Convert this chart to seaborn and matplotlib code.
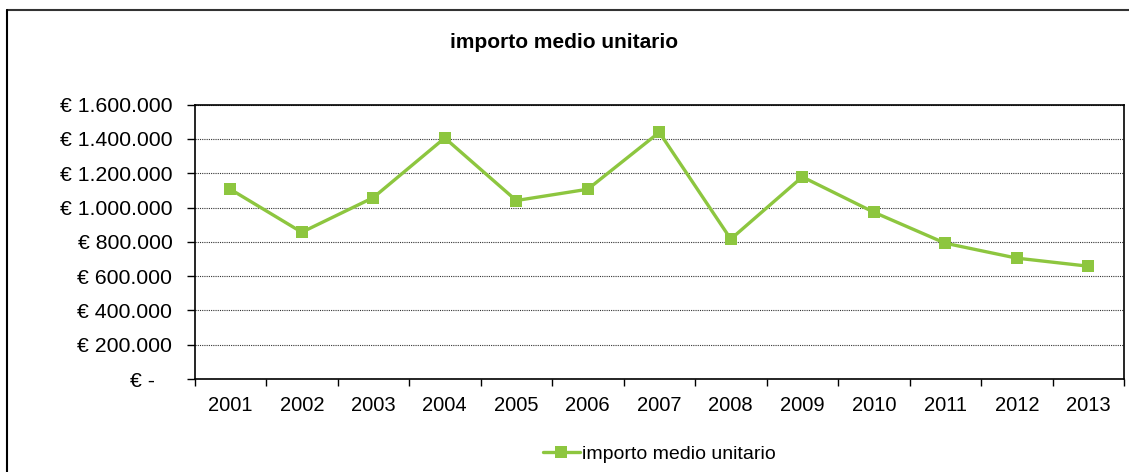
import matplotlib
matplotlib.use("Agg")
import matplotlib.pyplot as plt
from matplotlib.lines import Line2D
from matplotlib.ticker import FixedLocator, FuncFormatter
import seaborn as sns
import pandas as pd

years = ["2001", "2002", "2003", "2004", "2005", "2006", "2007",
         "2008", "2009", "2010", "2011", "2012", "2013"]
importo = [1107000, 856000, 1058000, 1406000, 1041000, 1107000, 1439000,
           816000, 1179000, 973000, 792000, 705000, 658000]
series_name = "importo medio unitario"
title = "importo medio unitario"

sns.set_theme(style="white")
plt.rcParams["font.family"] = ["Liberation Sans", "DejaVu Sans"]
plt.rcParams["text.color"] = "black"

df = pd.DataFrame({"anno": years, "valore": importo})
df["x"] = range(len(years))

fig = plt.figure(figsize=(11.29, 4.72), dpi=100)
ax = fig.add_axes([0.1723, 0.197, 0.9956 - 0.1723, 0.7782 - 0.197])

green = "#8DC63F"
sns.lineplot(data=df, x="x", y="valore", ax=ax, color=green, linewidth=2.4,
             marker="s", markersize=9, markeredgewidth=0, legend=False)

ax.set_xlim(-0.5, len(years) - 0.5)
ax.set_ylim(0, 1600000)
ax.set_xlabel("")
ax.set_ylabel("")

ax.xaxis.set_major_locator(FixedLocator(list(range(len(years)))))
ax.set_xticklabels(years)
ax.xaxis.set_minor_locator(FixedLocator([i - 0.5 for i in range(len(years) + 1)]))
ax.tick_params(axis="x", which="major", length=0, pad=12, labelsize=14.5, colors="black")
ax.tick_params(axis="x", which="minor", length=5, width=1, color="black", direction="out", bottom=True)

yt = list(range(0, 1600001, 200000))
ax.yaxis.set_major_locator(FixedLocator(yt))

def fmt(v, pos):
    if v == 0:
        return "€ -   "
    return "€ " + f"{int(v):,}".replace(",", ".")

ax.yaxis.set_major_formatter(FuncFormatter(fmt))
ax.tick_params(axis="y", which="major", length=6, width=1, color="black",
               direction="out", left=True, pad=10, labelsize=15.3, colors="black")

ax.grid(axis="y", color="#333333", linestyle=(0, (1, 1)), linewidth=0.8)
ax.grid(axis="x", visible=False)
for s in ax.spines.values():
    s.set_visible(True)
    s.set_color("black")
    s.set_linewidth(1.2)
ax.set_facecolor("white")

fig.text(0.5, 1 - 42 / 472, title, ha="center", va="center",
         fontsize=15, fontweight="bold", color="black")

handle = Line2D([], [], color=green, linewidth=2.4, marker="s", markersize=9,
                markeredgewidth=0)
leg = fig.legend([handle], [series_name], loc="center",
                 bbox_to_anchor=((194.5 + 1124) / 2 / 1129, 1 - 454 / 472),
                 frameon=False, fontsize=14, handlelength=1.9, handletextpad=0.1)
for t in leg.get_texts():
    t.set_color("black")

# outer chart frame
fig.add_artist(Line2D([7 / 1129, 1.0], [1 - 10 / 472, 1 - 10 / 472],
                      transform=fig.transFigure, color="#333333", linewidth=1.5))
fig.add_artist(Line2D([7 / 1129, 7 / 1129], [0.0, 1 - 10 / 472],
                      transform=fig.transFigure, color="black", linewidth=1.5))

fig.savefig("out.png", dpi=100, facecolor="white")
